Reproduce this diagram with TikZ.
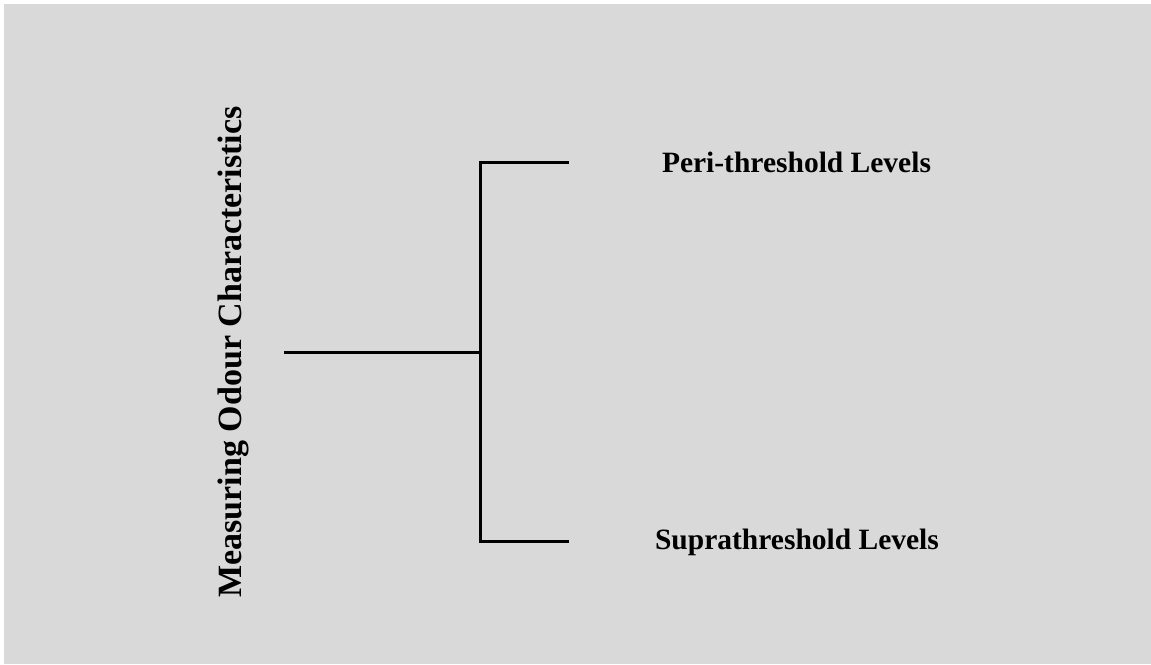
\documentclass[tikz,border=0pt]{standalone}
\usepackage{fontspec}
\setmainfont{Liberation Serif}
\definecolor{bg}{HTML}{D9D9D9}
\begin{document}
\begin{tikzpicture}[x=1pt,y=1pt,
  lbl/.style={font=\bfseries\fontsize{29.5}{34}\selectfont, inner sep=0pt, anchor=base},
  conn/.style={line width=3pt, line cap=rect},
]
\useasboundingbox (0,0) rectangle (1151,-664);
\fill[white] (0,0) rectangle (1151,-664);
\fill[bg] (4,-4) rectangle (1151,-664);
\node[font=\bfseries\fontsize{34}{38}\selectfont, inner sep=0pt, anchor=base, rotate=90] (root) at (241,-352) {Measuring Odour Characteristics};
\coordinate (start) at (285,-352);
\coordinate (j) at (480,-352);
\coordinate (jt) at (480,-162);
\coordinate (jb) at (480,-541);
\coordinate (et) at (567,-162);
\coordinate (eb) at (567,-541);
\node[lbl] (peri) at (796.5,-172) {Peri-threshold Levels};
\node[lbl] (supra) at (797,-549) {Suprathreshold Levels};
\draw[conn] (start) -- (j);
\draw[conn] (et) -- (jt) -- (jb) -- (eb);
\end{tikzpicture}
\end{document}
